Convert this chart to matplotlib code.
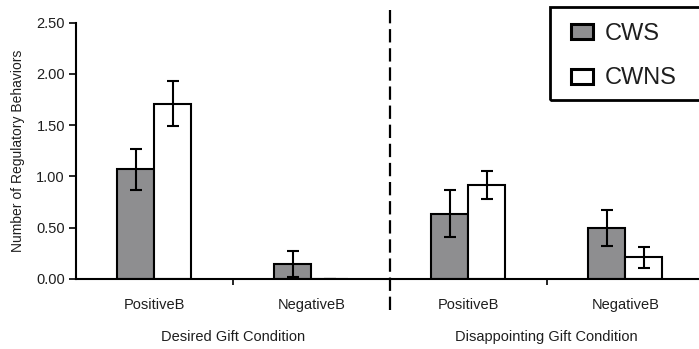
import matplotlib
matplotlib.use("Agg")
import matplotlib.pyplot as plt
from matplotlib.patches import Rectangle
from matplotlib.transforms import blended_transform_factory
import numpy as np

plt.rcParams['font.family'] = ['Liberation Sans', 'DejaVu Sans']

# values
categories = ["PositiveB", "NegativeB", "PositiveB", "NegativeB"]
groups = ["Desired Gift Condition", "Disappointing Gift Condition"]
cws = [1.07, 0.145, 0.635, 0.50]
cws_err = [0.20, 0.13, 0.23, 0.175]
cwns = [1.71, 0.0, 0.92, 0.21]
cwns_err = [0.22, 0.0, 0.135, 0.105]
yticks = [0.0, 0.5, 1.0, 1.5, 2.0, 2.5]

W, H = 699, 349
fig = plt.figure(figsize=(W / 100, H / 100), dpi=100)
ax = fig.add_axes([76 / W, 70 / H, 1 - 76 / W, (279 - 22.7) / H])

x = np.arange(len(categories))
w = 0.236
gray = "#8e8e90"
txt = "#1e1e1e"
err_kw = dict(ecolor="black", elinewidth=1.5, capsize=4.5, capthick=1.5)
ax.bar(x - w / 2, cws, w, yerr=cws_err, color=gray, edgecolor="black",
       linewidth=1.5, error_kw=err_kw, label="CWS", zorder=2)
ax.bar(x + w / 2, cwns, w, yerr=cwns_err, color="white", edgecolor="black",
       linewidth=1.5, error_kw=err_kw, label="CWNS", zorder=2)

ax.set_xlim(-0.5, 3.47)
ax.set_ylim(0, 2.5)
ax.set_yticks(yticks)
ax.set_yticklabels(["%.2f" % v for v in yticks], fontsize=10.5, color=txt)
ax.set_xticks(x)
ax.set_xticklabels(categories, fontsize=10.5, color=txt)
ax.tick_params(axis="x", which="major", length=0, pad=14)
ax.set_xticks([0.5, 2.5], minor=True)
ax.tick_params(axis="x", which="minor", length=4, width=1.2, direction="out")
ax.tick_params(axis="y", length=5, width=1.2, direction="out", pad=3)

for side in ["top", "right"]:
    ax.spines[side].set_visible(False)
ax.spines["left"].set_linewidth(1.5)
ax.spines["bottom"].set_linewidth(1.5)

ax.set_ylabel("Number of Regulatory Behaviors", fontsize=10, color=txt, labelpad=8)

trans = blended_transform_factory(ax.transData, ax.transAxes)
for pos, g in zip([0.5, 2.5], groups):
    ax.text(pos, -0.225, g, transform=trans, ha="center", va="center",
            fontsize=10.5, color=txt)

# dashed divider between conditions
ax.plot([1.5, 1.5], [-0.30, 2.67], color="black", linewidth=1.6,
        dashes=(6, 2.6), clip_on=False, zorder=3)

# legend, with a frame that runs off the right edge like the original
leg = fig.legend(loc="upper left", bbox_to_anchor=(571 / W, 1 - 23 / H),
                 fontsize=17, frameon=False,
                 handlelength=0.92, handleheight=0.6, handletextpad=0.5,
                 labelspacing=0.95, borderpad=0, borderaxespad=0)
for h in leg.legend_handles:
    h.set_linewidth(2.2)
for t in leg.get_texts():
    t.set_color(txt)
fig.patches.append(Rectangle((550 / W, 1 - 100 / H), 160 / W, 93 / H,
                             transform=fig.transFigure, fill=False,
                             edgecolor="black", linewidth=2))

fig.savefig("out.png", dpi=100)
